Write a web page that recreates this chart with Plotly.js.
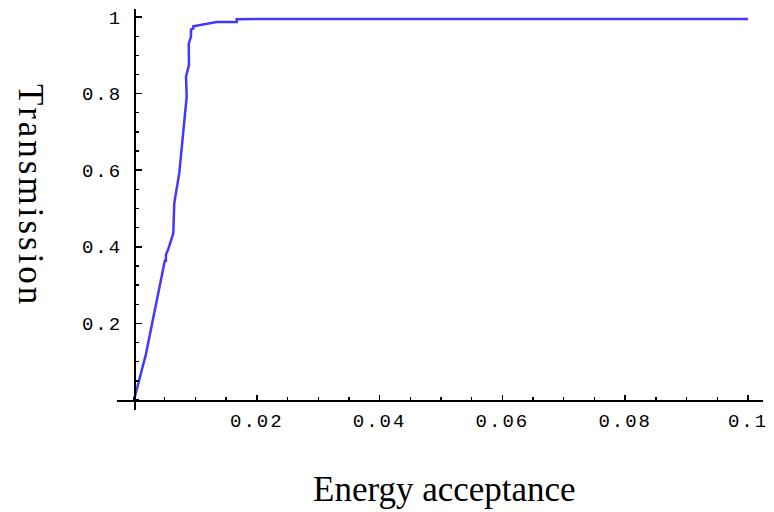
<!DOCTYPE html>
<html>
<head>
<meta charset="utf-8">
<script src="https://cdn.plot.ly/plotly-3.0.1.min.js"></script>
<style>
html,body{margin:0;padding:0;background:#fff;}
#chart{width:774px;height:512px;}
.xtick text, .ytick text {letter-spacing:2px;}
.annotation[data-index="1"] text {letter-spacing:3px;}
</style>
</head>
<body>
<div id="chart"></div>
<script>
// Energy acceptance (x) vs Transmission (y)
var energyAcceptance = [0, 0.00195, 0.00505, 0.0052, 0.0052, 0.0055, 0.0064, 0.00656, 0.00738, 0.00858, 0.00847, 0.00896, 0.00891, 0.00928, 0.00928, 0.00966, 0.00966, 0.01047, 0.01156, 0.0122, 0.01347, 0.01673, 0.01673, 0.0205, 0.1];
var transmission     = [0, 0.12, 0.366, 0.36, 0.38, 0.39, 0.435, 0.514, 0.593, 0.792, 0.844, 0.875, 0.930, 0.949, 0.967, 0.970, 0.976, 0.978, 0.982, 0.983, 0.987, 0.987, 0.994, 0.995, 0.995];

var xTickVals = [0.02, 0.04, 0.06, 0.08, 0.1];
var xTickText = ["0.02", "0.04", "0.06", "0.08", "0.1"];
var yTickVals = [0.2, 0.4, 0.6, 0.8, 1];
var yTickText = ["0.2", "0.4", "0.6", "0.8", "1"];

var W = 774, H = 512;
var mL = 117, mR = 11, mT = 9, mB = 102;
var xr = [-17/6140, 0.1 + 15/6140];
var yr = [-10/383, 1 + 8/383];
var plotW = W - mL - mR, plotH = H - mT - mB;
var xAxisPos = (0 - yr[0]) / (yr[1] - yr[0]);
var yAxisPos = (0 - xr[0]) / (xr[1] - xr[0]);

var tickFont = {family: "Liberation Mono, monospace", size: 19, color: "#000"};

var trace = {
  x: energyAcceptance,
  y: transmission,
  mode: "lines",
  type: "scatter",
  line: {color: "#4238ff", width: 2.5},
  hoverinfo: "none"
};

var layout = {
  width: W, height: H,
  margin: {l: mL, r: mR, t: mT, b: mB, pad: 0},
  paper_bgcolor: "#fff", plot_bgcolor: "#fff",
  showlegend: false,
  xaxis: {
    range: xr, anchor: "free", position: xAxisPos,
    showgrid: false, zeroline: false,
    showline: true, linecolor: "#000", linewidth: 1.6,
    ticks: "inside", ticklen: 5, tickwidth: 1.6, tickcolor: "#000",
    tickvals: xTickVals, ticktext: xTickText, tickfont: tickFont,
    ticklabelstandoff: 3,
    minor: {dtick: 0.005, tick0: 0, ticks: "inside", ticklen: 3, tickwidth: 1.3, tickcolor: "#000", showgrid: false}
  },
  yaxis: {
    range: yr, anchor: "free", position: yAxisPos,
    showgrid: false, zeroline: false,
    showline: true, linecolor: "#000", linewidth: 1.6,
    ticks: "inside", ticklen: 6, tickwidth: 1.6, tickcolor: "#000",
    tickvals: yTickVals, ticktext: yTickText, tickfont: tickFont,
    ticklabelstandoff: 8,
    minor: {dtick: 0.05, tick0: 0, ticks: "inside", ticklen: 3, tickwidth: 1.3, tickcolor: "#000", showgrid: false}
  },
  annotations: [
    {
      text: "Energy acceptance", xref: "paper", yref: "paper",
      x: (444 - mL) / plotW, y: -(489 - (H - mB)) / plotH,
      xanchor: "center", yanchor: "middle", showarrow: false,
      font: {family: "Liberation Serif, serif", size: 35, color: "#000"}
    },
    {
      text: "Transmission", xref: "paper", yref: "paper",
      x: -(mL - 31) / plotW, y: (H - mB - 195) / plotH,
      xanchor: "center", yanchor: "middle", showarrow: false, textangle: 90,
      font: {family: "Liberation Serif, serif", size: 35, color: "#000"}
    }
  ]
};

Plotly.newPlot("chart", [trace], layout, {staticPlot: true, displayModeBar: false});
</script>
</body>
</html>
